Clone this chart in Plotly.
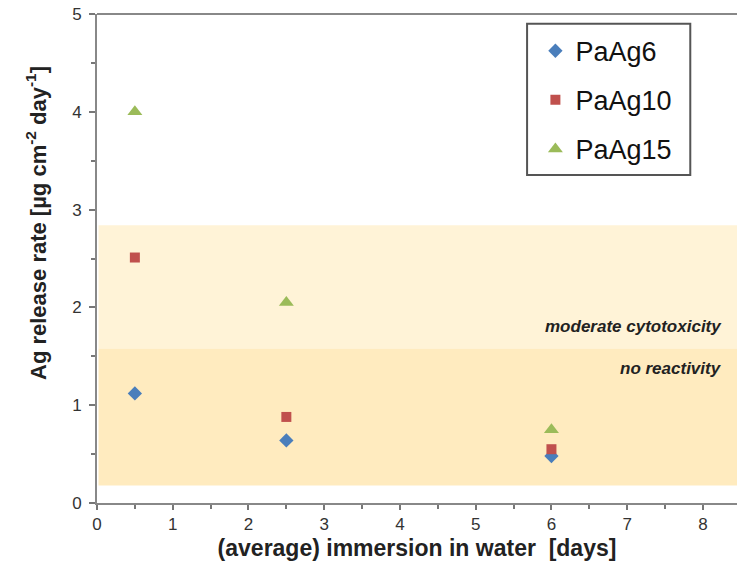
import plotly.graph_objects as go

days = [0.5, 2.5, 6]
paag6 = [1.12, 0.64, 0.48]
paag10 = [2.51, 0.88, 0.55]
paag15 = [4.0, 2.05, 0.75]

band_no_reactivity = [0.18, 1.58]
band_moderate = [1.58, 2.84]

fig = go.Figure()
fig.add_trace(go.Scatter(x=days, y=paag6, mode="markers", name="PaAg6", legendgroup="a",
                         marker=dict(symbol="diamond", size=11, color="#4A7EBB")))
fig.add_trace(go.Scatter(x=days, y=paag10, mode="markers", name="PaAg10", legendgroup="b",
                         marker=dict(symbol="square", size=10, color="#C0504D")))
fig.add_trace(go.Scatter(x=days, y=paag15, mode="markers", name="PaAg15", legendgroup="c",
                         marker=dict(symbol="triangle-up", size=13, color="#9BBB59")))

fig.add_shape(type="rect", xref="x", yref="y", x0=0.02, x1=8.45, y0=band_moderate[0], y1=band_moderate[1],
              fillcolor="#FFF3D7", line_width=0, layer="below")
fig.add_shape(type="rect", xref="x", yref="y", x0=0.02, x1=8.45, y0=band_no_reactivity[0], y1=band_no_reactivity[1],
              fillcolor="#FFEBBF", line_width=0, layer="below")
# legend frame
fig.add_shape(type="rect", xref="paper", yref="paper", x0=0.672, x1=0.927, y0=0.671, y1=0.98,
              fillcolor="white", line=dict(color="#555", width=2), layer="below")

fig.add_annotation(x=8.28, y=1.8, text="<b><i>moderate cytotoxicity</i></b>", showarrow=False,
                   xanchor="right", font=dict(family="Liberation Sans", size=17, color="#222"))
fig.add_annotation(x=8.28, y=1.38, text="<b><i>no reactivity</i></b>", showarrow=False,
                   xanchor="right", font=dict(family="Liberation Sans", size=17, color="#222"))

fig.add_annotation(xref="paper", yref="paper", x=-0.095, y=0.573, textangle=-90,
                   xanchor="center", yanchor="middle", showarrow=False,
                   text="<b>Ag release rate [µg cm<sup>-2</sup> day<sup>-1</sup>]</b>",
                   font=dict(size=22, color="#222"))

fig.update_layout(
    width=737, height=568,
    margin=dict(l=97, r=0, t=14, b=65),
    plot_bgcolor="white", paper_bgcolor="white",
    font=dict(family="Liberation Sans, Arial", color="#333"),
    legend=dict(x=0.685, y=0.974, xanchor="left", yanchor="top",
                borderwidth=0, bgcolor="rgba(0,0,0,0)",
                font=dict(size=27, color="#111"), tracegroupgap=11),
    xaxis=dict(range=[0, 8.45], tickvals=[0, 1, 2, 3, 4, 5, 6, 7, 8],
               ticks="outside", ticklen=5, tickcolor="#777", tickwidth=2,
               showline=True, linecolor="#888", linewidth=2, mirror=False,
               showgrid=False, zeroline=False,
               minor=dict(dtick=0.5, ticks="outside", ticklen=4, tickcolor="#777", tickwidth=2),
               tickfont=dict(size=17, color="#333"),
               title=dict(text="<b>(average) immersion in water  [days]</b>",
                          font=dict(family="Liberation Sans", size=23, color="#222"),
                          standoff=6)),
    yaxis=dict(range=[0, 5], tickvals=[0, 1, 2, 3, 4, 5],
               ticks="outside", ticklen=6, tickcolor="#777", tickwidth=2,
               showline=True, linecolor="#888", linewidth=2,
               showgrid=False, zeroline=False,
               minor=dict(dtick=0.5, ticks="outside", ticklen=4, tickcolor="#777", tickwidth=2),
               tickfont=dict(size=17, color="#333"), ticklabelstandoff=4),
)
fig.add_shape(type="line", xref="paper", yref="paper", x0=0, x1=1, y0=1, y1=1,
              line=dict(color="#888", width=2))

fig.write_html("out.html")
